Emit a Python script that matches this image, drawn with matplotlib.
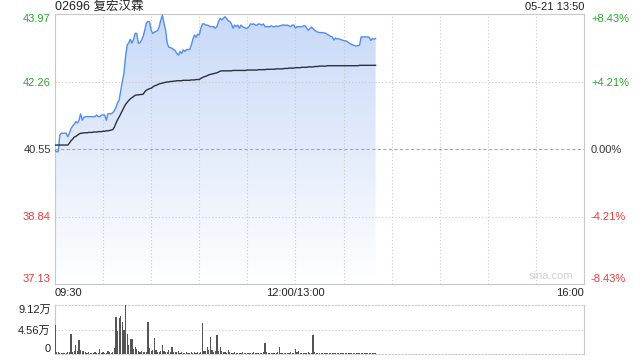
import numpy as np
import matplotlib
matplotlib.use('Agg')
import matplotlib.pyplot as plt
from matplotlib.colors import LinearSegmentedColormap

plt.rcParams['font.family'] = ['Liberation Sans', 'Noto Sans CJK SC', 'DejaVu Sans']

# intraday data, one value per trading minute from 09:30 to 13:50
price = [40.52, 40.48, 40.48, 40.90, 40.95, 40.95, 40.95, 40.95, 40.86, 40.95,
         41.07, 41.13, 41.18, 41.24, 41.21, 41.28, 41.44, 41.28, 41.35, 41.37,
         41.37, 41.37, 41.37, 41.37, 41.37, 41.37, 41.41, 41.37, 41.37, 41.41,
         41.41, 41.41, 41.28, 41.44, 41.45, 41.44, 41.47, 41.52, 41.60, 41.72,
         41.79, 42.03, 42.26, 42.47, 42.89, 43.18, 43.24, 43.33, 43.23, 43.33,
         43.48, 43.48, 43.23, 43.24, 43.31, 43.40, 43.56, 43.75, 43.78, 43.77,
         43.56, 43.48, 43.51, 43.53, 43.55, 43.65, 43.82, 43.94, 43.73, 43.56,
         43.23, 43.13, 43.12, 43.10, 43.07, 43.04, 42.97, 42.93, 43.02, 42.97,
         43.06, 43.02, 43.07, 43.07, 43.07, 43.18, 43.33, 43.44, 43.38, 43.46,
         43.44, 43.61, 43.72, 43.72, 43.69, 43.69, 43.67, 43.65, 43.65, 43.65,
         43.61, 43.65, 43.78, 43.86, 43.82, 43.86, 43.90, 43.86, 43.80, 43.78,
         43.73, 43.61, 43.69, 43.65, 43.69, 43.61, 43.69, 43.65, 43.63, 43.61,
         43.61, 43.65, 43.72, 43.71, 43.72, 43.69, 43.69, 43.72, 43.71, 43.69,
         43.72, 43.65, 43.65, 43.65, 43.65, 43.67, 43.65, 43.65, 43.67, 43.65,
         43.67, 43.68, 43.69, 43.69, 43.68, 43.69, 43.67, 43.65, 43.69, 43.69,
         43.61, 43.65, 43.65, 43.65, 43.65, 43.67, 43.67, 43.61, 43.56, 43.60,
         43.64, 43.60, 43.56, 43.53, 43.51, 43.50, 43.50, 43.50, 43.49, 43.48,
         43.45, 43.43, 43.40, 43.39, 43.31, 43.36, 43.34, 43.34, 43.33, 43.31,
         43.30, 43.29, 43.28, 43.25, 43.22, 43.20, 43.18, 43.17, 43.16, 43.17,
         43.18, 43.39, 43.39, 43.39, 43.39, 43.39, 43.38, 43.30, 43.35, 43.33,
         43.35]

avg_price = [40.65, 40.65, 40.65, 40.65, 40.65, 40.65, 40.65, 40.65, 40.65, 40.70,
             40.76, 40.80, 40.85, 40.87, 40.90, 40.93, 40.95, 40.95, 40.96, 40.96,
             40.96, 40.97, 40.97, 40.97, 40.98, 40.98, 40.98, 40.99, 40.99, 40.99,
             41.00, 41.00, 41.01, 41.01, 41.02, 41.03, 41.04, 41.10, 41.20, 41.29,
             41.36, 41.44, 41.52, 41.60, 41.68, 41.73, 41.78, 41.82, 41.85, 41.88,
             41.91, 41.92, 41.92, 41.93, 41.93, 41.94, 42.00, 42.04, 42.06, 42.08,
             42.09, 42.12, 42.15, 42.16, 42.18, 42.20, 42.21, 42.22, 42.23, 42.24,
             42.25, 42.25, 42.26, 42.26, 42.27, 42.27, 42.28, 42.28, 42.28, 42.28,
             42.29, 42.29, 42.29, 42.29, 42.29, 42.30, 42.30, 42.30, 42.31, 42.31,
             42.31, 42.34, 42.36, 42.38, 42.39, 42.41, 42.43, 42.44, 42.45, 42.46,
             42.47, 42.48, 42.50, 42.52, 42.53, 42.53, 42.53, 42.53, 42.53, 42.53,
             42.53, 42.54, 42.54, 42.54, 42.54, 42.54, 42.54, 42.54, 42.54, 42.54,
             42.55, 42.55, 42.55, 42.55, 42.55, 42.55, 42.55, 42.56, 42.56, 42.56,
             42.56, 42.56, 42.57, 42.57, 42.57, 42.57, 42.57, 42.57, 42.58, 42.58,
             42.58, 42.58, 42.58, 42.59, 42.59, 42.59, 42.60, 42.60, 42.60, 42.60,
             42.61, 42.61, 42.61, 42.61, 42.62, 42.62, 42.62, 42.62, 42.63, 42.63,
             42.63, 42.63, 42.64, 42.64, 42.64, 42.65, 42.65, 42.65, 42.65, 42.65,
             42.66, 42.66, 42.66, 42.66, 42.66, 42.66, 42.66, 42.66, 42.66, 42.66,
             42.66, 42.66, 42.66, 42.66, 42.66, 42.66, 42.66, 42.66, 42.66, 42.66,
             42.67, 42.67, 42.67, 42.67, 42.67, 42.67, 42.67, 42.67, 42.67, 42.67,
             42.67]

# volume in 万 shares
volume = [5.4, 0.4, 0.3, 0.2, 0.2, 0.15, 0.2, 0.2, 0.3, 0.3,
          3.8, 0.3, 0.6, 1.7, 0.6, 2.6, 0.8, 0.5, 0.6, 0.3,
          0.2, 0.3, 0.2, 0.15, 0.2, 0.3, 0.2, 0.2, 0.9, 0.2,
          0.3, 0.2, 0.15, 0.6, 0.3, 0.2, 0.3, 1.2, 6.9, 4.2,
          6.7, 7.1, 6.0, 4.5, 9.12, 3.7, 1.7, 2.8, 2.8, 0.9,
          1.3, 0.9, 0.6, 0.4, 0.5, 0.3, 0.4, 0.3, 6.0, 1.2,
          0.5, 0.8, 3.0, 0.7, 0.4, 0.3, 0.5, 1.7, 0.6, 0.4,
          0.3, 0.8, 0.4, 1.3, 0.4, 0.3, 0.3, 0.5, 0.2, 0.3,
          0.2, 0.2, 0.3, 0.2, 0.2, 0.3, 0.2, 0.3, 0.2, 0.3,
          0.2, 0.3, 5.7, 0.5, 0.5, 1.3, 0.8, 3.2, 0.8, 0.4,
          0.6, 3.5, 0.5, 1.3, 0.5, 0.3, 0.4, 0.2, 0.8, 0.3,
          0.2, 0.2, 0.3, 0.2, 0.15, 0.2, 0.2, 0.3, 0.2, 0.15,
          0.2, 0.2, 0.15, 0.2, 0.3, 0.2, 0.2, 0.15, 0.2, 0.2,
          0.3, 2.1, 0.3, 0.2, 0.2, 0.15, 0.2, 0.2, 0.2, 0.3,
          1.3, 0.2, 0.2, 0.15, 0.2, 0.2, 0.2, 0.3, 0.2, 0.2,
          0.9, 0.3, 0.5, 0.2, 0.2, 0.15, 0.2, 0.2, 0.3, 0.2,
          0.2, 3.6, 0.3, 0.2, 0.15, 0.2, 0.2, 0.2, 0.15, 0.2,
          0.2, 0.15, 0.2, 0.2, 0.2, 0.15, 0.2, 0.2, 0.15, 0.2,
          0.2, 0.2, 0.15, 0.2, 0.2, 0.2, 0.15, 0.2, 0.2, 0.2,
          0.2, 0.15, 0.2, 0.2, 0.2, 0.15, 0.2, 0.2, 0.2, 0.15,
          0.2]

prev_close = 40.55
price_ticks = [37.13, 38.84, 40.55, 42.26, 43.97]
price_labels = ['37.13', '38.84', '40.55', '42.26', '43.97']
pct_labels = ['-8.43%', '-4.21%', '0.00%', '+4.21%', '+8.43%']
label_colors = ['#ee3a3a', '#ee3a3a', '#333333', '#2aa82a', '#2aa82a']
time_ticks = [0, 150, 330]
time_labels = ['09:30', '12:00/13:00', '16:00']
vol_ticks = [0, 4.56, 9.12]
vol_labels = ['0', '4.56万', '9.12万']

minutes = np.arange(len(price))
grid_col = '#c8c8c8'
dot = (0, (1, 2))

fig = plt.figure(figsize=(6.4, 3.6), dpi=100)
ax = fig.add_axes([55 / 640, 1 - 284 / 360, 529 / 640, 270 / 360])
axv = fig.add_axes([55 / 640, 1 - 354 / 360, 529 / 640, 49 / 360])

# main price panel
ax.set_xlim(0, 330)
ax.set_ylim(37.13, 43.97)
for t in range(30, 330, 30):
    ax.axvline(t, color=grid_col, lw=0.8, ls=dot, zorder=3)
for p in price_ticks[1:-1]:
    if p == prev_close:
        ax.axhline(p, color='#a8a8a8', lw=0.8, ls=(0, (3, 2)), zorder=3)
    else:
        ax.axhline(p, color=grid_col, lw=0.8, ls=dot, zorder=3)

# gradient fill under the price line
cmap = LinearSegmentedColormap.from_list('fade', ['#ffffff', '#c8d9f8'])
grad = np.linspace(0, 1, 256).reshape(-1, 1)
img = ax.imshow(grad, cmap=cmap, origin='lower', aspect='auto',
                extent=[0, minutes[-1], 37.13, 43.97], zorder=2)
poly = ax.fill_between(minutes, price, 37.13, color='none', lw=0)
img.set_clip_path(poly.get_paths()[0], transform=ax.transData)

ax.plot(minutes, price, color='#4f8ef0', lw=1.0, zorder=4)
ax.plot(minutes, avg_price, color='#2b303c', lw=1.0, zorder=4)

for s in ax.spines.values():
    s.set_color(grid_col)
ax.set_yticks(price_ticks)
ax.set_yticklabels(price_labels, fontsize=8)
ax.set_xticks(time_ticks)
ax.set_xticklabels(time_labels, fontsize=8, color='#222222')
ax.tick_params(length=0, pad=3)
xl = ax.get_xticklabels()
xl[0].set_ha('left')
xl[2].set_ha('right')
for lab, c in zip(ax.get_yticklabels(), label_colors):
    lab.set_color(c)
ax.get_yticklabels()[0].set_va('bottom')
ax.get_yticklabels()[-1].set_va('top')

ax2 = ax.twinx()
ax2.set_ylim(37.13, 43.97)
ax2.set_yticks(price_ticks)
ax2.set_yticklabels(pct_labels, fontsize=8)
ax2.tick_params(length=0, pad=5)
for lab, c in zip(ax2.get_yticklabels(), label_colors):
    lab.set_color(c)
ax2.get_yticklabels()[0].set_va('bottom')
ax2.get_yticklabels()[-1].set_va('top')
for s in ax2.spines.values():
    s.set_visible(False)

ax.text(0, 1.026, '02696 复宏汉霖', transform=ax.transAxes, fontsize=9,
        ha='left', va='center', color='#222222')
ax.text(1, 1.026, '05-21 13:50', transform=ax.transAxes, fontsize=8,
        ha='right', va='center', color='#222222')
ax.text(0.979, 0.012, 'sina.com', transform=ax.transAxes, fontsize=8,
        ha='right', va='bottom', color='#d0d0d0')

# volume panel
axv.set_xlim(0, 330)
axv.set_ylim(0, 9.12)
axv.bar(minutes, volume, width=0.75, color='#555555', zorder=3)
axv.axhline(4.56, color=grid_col, lw=0.8, ls=dot)
axv.spines['left'].set_color(grid_col)
axv.spines['right'].set_color(grid_col)
axv.spines['top'].set_color(grid_col)
axv.spines['top'].set_linestyle(dot)
axv.spines['bottom'].set_color(grid_col)
axv.spines['bottom'].set_linestyle(dot)
axv.set_xticks([])
axv.set_yticks(vol_ticks)
axv.set_yticklabels(vol_labels, fontsize=8, color='#222222')
axv.tick_params(length=0, pad=3)
axv.get_yticklabels()[0].set_va('bottom')
axv.get_yticklabels()[-1].set_va('top')

fig.savefig('out.png', dpi=100)
